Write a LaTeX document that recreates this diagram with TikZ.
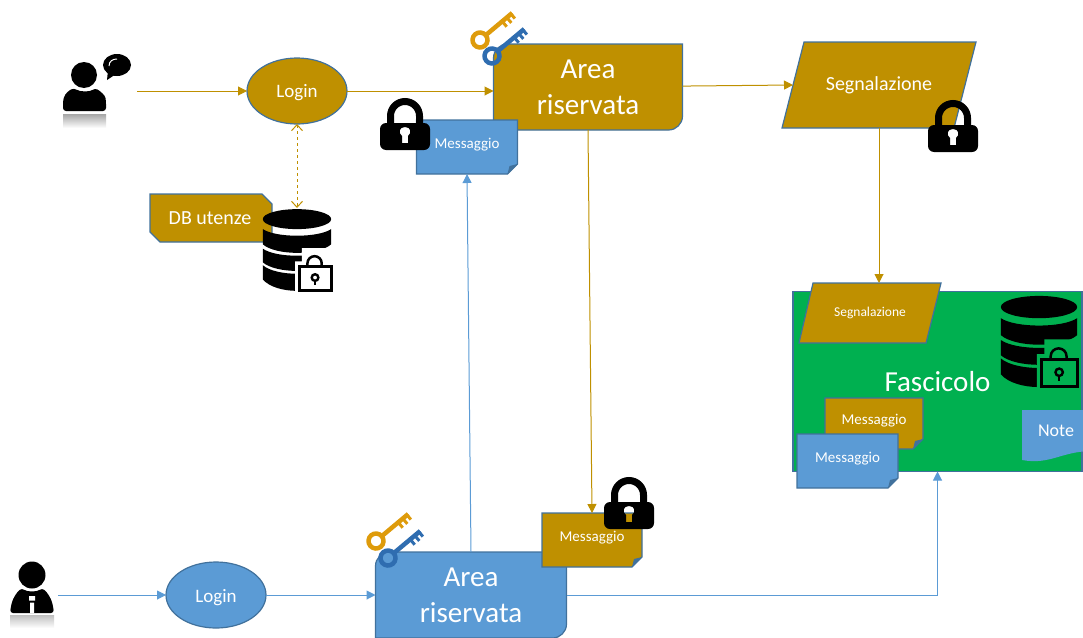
\documentclass[tikz,border=0pt]{standalone}
\usepackage{fontspec}
\setmainfont{Carlito}
\usetikzlibrary{positioning,arrows.meta,shapes.geometric}

\definecolor{goldfill}{RGB}{191,144,0}
\definecolor{bluefill}{RGB}{91,155,213}
\definecolor{edgeblue}{RGB}{65,113,156}
\definecolor{greenfill}{RGB}{0,176,80}
\definecolor{goldkey}{RGB}{222,155,11}
\definecolor{bluekey}{RGB}{47,109,176}

\tikzset{
  gold/.style={fill=goldfill,draw=edgeblue,line width=1.2pt},
  blue/.style={fill=bluefill,draw=edgeblue,line width=1.2pt},
  label/.style={text=white,inner sep=0pt,outer sep=0pt,align=center},
  smalltxt/.style={label,font=\fontsize{15}{18}\selectfont},
  midtxt/.style={label,font=\fontsize{19}{22}\selectfont},
  bigtxt/.style={label,font=\fontsize{29}{36}\selectfont},
  goldline/.style={draw=goldfill,line width=1pt,-{Triangle[length=9pt,width=9pt]}},
  blueline/.style={draw=bluefill,line width=1pt,-{Triangle[length=9pt,width=9pt]}},
  padlock/.pic={
    \draw[line width=7pt] (-14.5,0) -- (-14.5,-8) arc[start angle=180,end angle=360,radius=14.5] -- (14.5,0);
    \fill[even odd rule,rounded corners=6pt] (-25,-1) rectangle (25,26)
      [sharp corners] (-3,19) -- (3,19) -- (3,12) .. controls (7,9) and (6,3) .. (0,3)
      .. controls (-6,3) and (-7,9) .. (-3,12) -- cycle;
  },
  keyicon/.pic={
    \draw[line width=4.5pt] (0,0) circle[radius=7.5];
    \draw[line width=4.5pt] (7,0) -- (42,0);
    \draw[line width=3pt] (29,0) -- (29,7) (35,0) -- (35,7) (40.5,0) -- (40.5,6);
  },
  dbicon/.pic={
    \fill (0,-32.5) ellipse[x radius=36,y radius=10.5];
    \fill (-36,-22) .. controls (-22,-12.7) and (22,-12.7) .. (36,-22) -- (36,-6)
      .. controls (22,6) and (-22,6) .. (-36,-6) -- cycle;
    \fill (-36,-1.4) .. controls (-22,8.5) and (22,8.5) .. (36,-1.4) -- (36,13)
      .. controls (22,25) and (-22,25) .. (-36,13) -- cycle;
    \fill (-36,16) .. controls (-22,28) and (22,28) .. (36,16) -- (36,31)
      .. controls (22,47) and (-22,47) .. (-36,31) -- cycle;
    \fill[#1] (-2,12) rectangle (38,46) (5,-2) rectangle (38,12);
    \draw[line width=3pt] (2.5,17) rectangle (36,42.5);
    \draw[line width=2.5pt] (11,17) -- (11,14) arc[start angle=180,end angle=360,radius=7.5] -- (26,17);
    \draw[line width=2.4pt] (19,29) circle[radius=3.5];
    \draw[line width=2.4pt] (19,32.5) -- (19,37);
  }
}

\newcommand{\areabox}[5]{
  \begin{scope}[shift={#3}]
    \draw[#1] (-#4/2,-29) arc[start angle=180,end angle=270,radius=14] -- (#4/2,-43) -- (#4/2,29)
      arc[start angle=0,end angle=90,radius=14] -- (-#4/2,43) -- cycle;
    \node[bigtxt,minimum width=#4,minimum height=86] (#2) at (0,0) {#5};
  \end{scope}
}
\newcommand{\notebox}[6]{
  \begin{scope}[shift={#3}]
    \draw[#1] (-#4/2,-#5/2) -- (#4/2,-#5/2) -- (#4/2,#5/2-10) -- (#4/2-10,#5/2) -- (-#4/2,#5/2) -- cycle;
    \fill[edgeblue] (#4/2,#5/2-10) -- (#4/2-10,#5/2) -- (#4/2-8,#5/2-8) -- cycle;
    \node[smalltxt,minimum width=#4,minimum height=#5] (#2) at (0,0) {\raisebox{-1pt}[0pt][0pt]{#6}};
  \end{scope}
}

\begin{document}
\begin{tikzpicture}[x=1pt,y=-1pt]
  \useasboundingbox (0,0) rectangle (1083,637);

  \coordinate (userA) at (137,91);
  \coordinate (userB) at (58,595);
  \coordinate (dbtop) at (297,208);

  \node[midtxt,gold,ellipse,minimum width=100,minimum height=66] (loginA) at (297,91) {\raisebox{-6.5pt}[0pt][0pt]{Login}};
  \node[midtxt,blue,ellipse,minimum width=100,minimum height=66] (loginB) at (216,595) {\raisebox{-7pt}[0pt][0pt]{Login}};

  \areabox{gold}{areaA}{(588,87)}{189}{Area\\riservata}
  \areabox{blue}{areaB}{(471,595)}{191}{Area\\riservata}
  \notebox{blue}{msgA}{(467,147)}{101}{54}{Messaggio}
  \notebox{gold}{msgB}{(592,540)}{100}{54}{Messaggio}

  \draw[gold] (804,42) -- (976,42) -- (954,128) -- (782,128) -- cycle;
  \node[midtxt,minimum width=172,minimum height=86,font=\fontsize{20}{24}\selectfont] (segA) at (879,85) {Segnalazione};

  \draw[gold] (150,194) -- (262,194) -- (272,204) -- (272,242) -- (160,242) -- (150,232) -- cycle;
  \node[midtxt,font=\fontsize{20}{24}\selectfont] (dbname) at (210,218) {DB utenze};

  \node[bigtxt,fill=greenfill,draw=edgeblue,line width=1.2pt,minimum width=289,minimum height=180] (fascicolo) at (937.5,381.5) {Fascicolo};
  \draw[gold] (813,283) -- (941,283) -- (926,343) -- (799,343) -- cycle;
  \node[label,minimum width=128,minimum height=60,font=\fontsize{13.5}{16}\selectfont] (segB) at (870,313) {Segnalazione};
  \notebox{gold}{msgC}{(874,423.5)}{98}{51}{Messaggio}
  \notebox{blue}{msgD}{(847.5,461)}{101}{54}{Messaggio}

  \draw[blue,draw=none] (1022,410) -- (1090,410) -- (1090,451) .. controls (1060,452) and (1050,465) .. (1022,460) -- cycle;
  \node[midtxt,font=\fontsize{18}{22}\selectfont] (note) at (1056,431) {Note};

  \draw[goldline] (userA) -- (loginA);
  \draw[goldline] (loginA) -- (loginA -| areaA.west);
  \draw[goldline] (areaA) -- (segA.west);
  \draw[goldline] (areaA.south) -- (msgB.north);
  \draw[goldline] (segA.south) -- (segB.north -| segA.south);
  \draw[draw=goldfill,line width=1pt,dashed,{Straight Barb[length=6pt,width=11pt]}-{Straight Barb[length=6pt,width=11pt]}] (loginA.south) -- (dbtop);

  \draw[blueline] (userB) -- (loginB);
  \draw[blueline] (loginB) -- (loginB -| areaB.west);
  \draw[blueline] (areaB.north) -- (msgA.south);
  \draw[blueline] (areaB.east |- loginB) -| (fascicolo.south);

  \pic at (405,124) {padlock};
  \pic at (953,126) {padlock};
  \pic at (629,503) {padlock};

  \pic[goldkey,rotate=40] at (480,40) {keyicon};
  \pic[bluekey,rotate=40] at (492,56) {keyicon};
  \pic[goldkey,rotate=40] at (376,541) {keyicon};
  \pic[bluekey,rotate=40] at (388,558) {keyicon};

  \pic[scale=0.95] at (297,250) {dbicon=white};
  \pic[scale=1.06] at (1039,341.5) {dbicon=greenfill};

  \fill (84,75) circle[radius=13];
  \fill (63,111) [rounded corners=3pt] -- (63,101) .. controls (65,93) and (70,90) .. (74,88)
    .. controls (80,92) and (90,92) .. (95,88) .. controls (100,91) and (105,95) .. (106,101) -- (106,111) -- cycle;
  \shade[top color=black!35,bottom color=white] (63,114) rectangle (106,128);
  \fill (117,65) ellipse[x radius=14,y radius=11];
  \fill (108,70) -- (107,80) -- (116,74) -- cycle;
  \draw[white,line width=1pt] (109,66) .. controls (109,61) and (113,59) .. (117,59);

  \fill (32,575) circle[radius=13.5];
  \fill (10,613) [rounded corners=3pt] -- (11,606) .. controls (13,598) and (17,592) .. (22,588)
    .. controls (27,592) and (37,592) .. (42,588) .. controls (47,592) and (51,598) .. (53,606) -- (54,613) -- cycle;
  \fill[white] (29,596) rectangle (35,600.5) (30,602.5) rectangle (34,613);
  \shade[top color=black!25,bottom color=white] (10,615) rectangle (54,628);
\end{tikzpicture}
\end{document}
